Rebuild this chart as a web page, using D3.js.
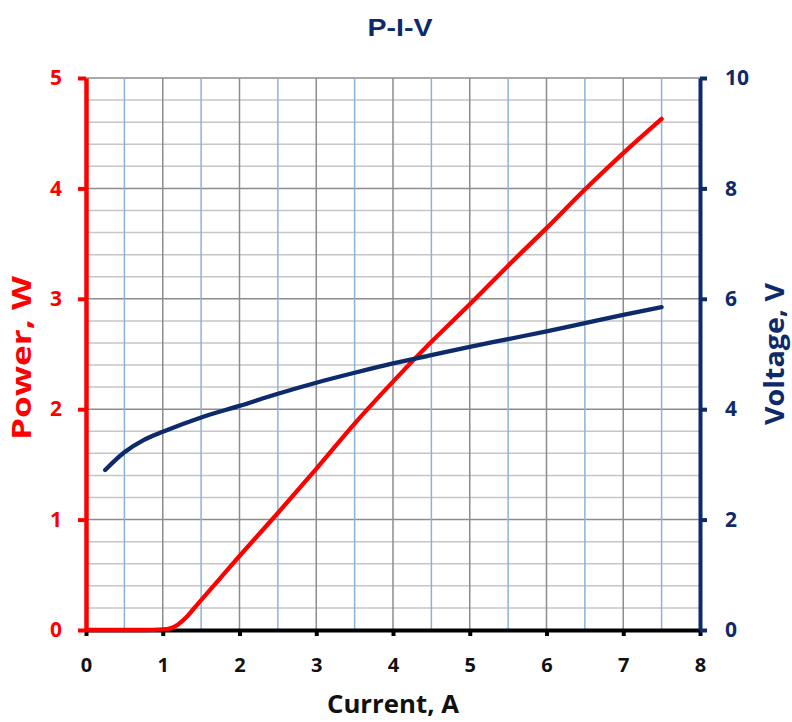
<!DOCTYPE html>
<html><head><meta charset="utf-8">
<script src="https://cdn.jsdelivr.net/npm/d3@7"></script>
<style>body{margin:0;background:#fff}svg{display:block}</style>
</head><body>
<svg id="c" width="792" height="722"></svg>
<script>
const currentP = [0,0.25,0.5,0.75,1.0,1.1,1.2,1.3,1.4,1.5,1.75,2,2.5,3,3.5,4,4.5,5,5.5,6,6.5,7,7.5];
const power    = [0,0,0,0,0.005,0.015,0.05,0.11,0.19,0.27,0.47,0.67,1.06,1.46,1.87,2.25,2.61,2.95,3.3,3.64,3.99,4.32,4.63];
const currentV = [0.25,0.5,0.75,1,1.5,2,2.5,3,3.5,4,4.5,5,5.5,6,6.5,7,7.5];
const voltage  = [2.9,3.22,3.44,3.59,3.85,4.06,4.28,4.48,4.66,4.83,4.98,5.13,5.27,5.41,5.56,5.71,5.85];
const xTicks = [0,1,2,3,4,5,6,7,8];
const pTicks = [0,1,2,3,4,5];
const vTicks = [0,2,4,6,8,10];

const RED="#ff0000", NAVY="#0d2a6a";
const svg=d3.select("#c");
const x=d3.scaleLinear().domain([0,8]).range([86,700]);
const yP=d3.scaleLinear().domain([0,5]).range([630,78]);
const yV=d3.scaleLinear().domain([0,10]).range([630,78]);
const font="'Open Sans', Lato, sans-serif";

// grid horizontal
const hMinor=d3.range(0,5.01,0.2).map(v=>+v.toFixed(1));
svg.append("g").selectAll("line").data(hMinor).join("line")
  .attr("x1",x(0)).attr("x2",x(8)).attr("y1",d=>yP(d)).attr("y2",d=>yP(d))
  .attr("stroke",d=>Math.abs(d-Math.round(d))<1e-6?"#8c8c8c":"#c6c6c6").attr("stroke-width",1.5);
// grid vertical
const vLines=d3.range(0.5,8,0.5);
svg.append("g").selectAll("line").data(vLines).join("line")
  .attr("x1",d=>x(d)).attr("x2",d=>x(d)).attr("y1",yP(0)).attr("y2",yP(5))
  .attr("stroke",d=>d%1===0?"#8c8c8c":"#8cb2dc").attr("stroke-width",1.5);

// axes
const fmt=d3.format("d");
const bottom=svg.append("g").attr("transform",`translate(0,${yP(0)})`)
  .call(d3.axisBottom(x).tickValues(xTicks).tickFormat(fmt).tickSize(6).tickSizeOuter(0).tickPadding(22));
bottom.select(".domain").attr("stroke","#000").attr("stroke-width",4);
bottom.selectAll(".tick line").attr("stroke","#000").attr("stroke-width",4);
bottom.selectAll("text").attr("fill","#111").attr("font-size",20).attr("font-weight","bold").attr("font-family",font);

const left=svg.append("g").attr("transform",`translate(${x(0)},0)`)
  .call(d3.axisLeft(yP).tickValues(pTicks).tickFormat(fmt).tickSize(8).tickSizeOuter(0).tickPadding(16));
left.select(".domain").attr("stroke",RED).attr("stroke-width",4.5);
left.selectAll(".tick line").attr("stroke",RED).attr("stroke-width",4);
left.selectAll("text").attr("fill",RED).attr("font-size",21).attr("font-weight","bold").attr("font-family",font);

const right=svg.append("g").attr("transform",`translate(${x(8)},0)`)
  .call(d3.axisRight(yV).tickValues(vTicks).tickFormat(fmt).tickSize(7).tickSizeOuter(0).tickPadding(18));
right.select(".domain").attr("stroke",NAVY).attr("stroke-width",4);
right.selectAll(".tick line").attr("stroke",NAVY).attr("stroke-width",4);
right.selectAll("text").attr("fill",NAVY).attr("font-size",21).attr("font-weight","bold").attr("font-family",font);

// curves
const lineP=d3.line().x((d,i)=>x(currentP[i])).y(d=>yP(d)).curve(d3.curveMonotoneX);
svg.append("path").attr("d",lineP(power)).attr("fill","none").attr("stroke",RED)
  .attr("stroke-width",4.3).attr("stroke-linecap","round");
const lineV=d3.line().x((d,i)=>x(currentV[i])).y(d=>yV(d)).curve(d3.curveMonotoneX);
svg.append("path").attr("d",lineV(voltage)).attr("fill","none").attr("stroke",NAVY)
  .attr("stroke-width",4.3).attr("stroke-linecap","round");

// titles
svg.append("text").attr("x",400).attr("y",36).attr("text-anchor","middle")
  .attr("font-family","'Liberation Sans', Arial, sans-serif").attr("font-weight","bold").attr("font-size",24)
  .attr("textLength",65).attr("lengthAdjust","spacingAndGlyphs")
  .attr("fill",NAVY).text("P-I-V");
svg.append("text").attr("x",393).attr("y",713).attr("text-anchor","middle")
  .attr("font-family",font).attr("font-weight","bold").attr("font-size",25)
  .attr("textLength",132).attr("lengthAdjust","spacingAndGlyphs")
  .attr("fill","#111").text("Current, A");
svg.append("text").attr("transform","translate(31,358) rotate(-90)").attr("text-anchor","middle")
  .attr("font-family",font).attr("font-weight","bold").attr("font-size",26)
  .attr("textLength",164).attr("lengthAdjust","spacingAndGlyphs")
  .attr("fill",RED).text("Power, W");
svg.append("text").attr("transform","translate(784,354) rotate(-90)").attr("text-anchor","middle")
  .attr("font-family",font).attr("font-weight","bold").attr("font-size",26)
  .attr("textLength",142).attr("lengthAdjust","spacingAndGlyphs")
  .attr("fill",NAVY).text("Voltage, V");
</script>
</body></html>
